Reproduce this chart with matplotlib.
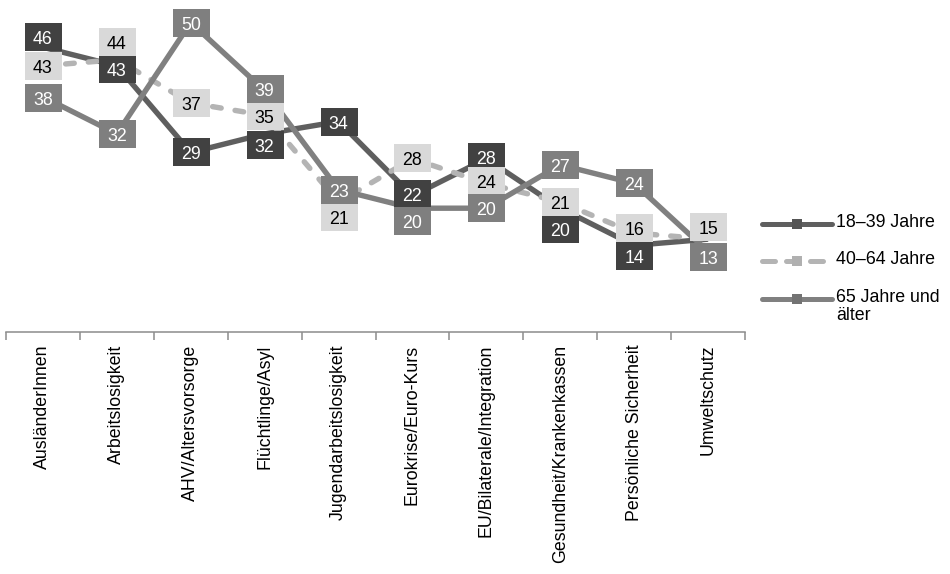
import matplotlib
matplotlib.use('Agg')
import matplotlib.pyplot as plt
from matplotlib.path import Path
from matplotlib.transforms import offset_copy

# Themen und Werte (Prozent) je Altersgruppe
categories = ['AusländerInnen', 'Arbeitslosigkeit', 'AHV/Altersvorsorge', 'Flüchtlinge/Asyl',
              'Jugendarbeitslosigkeit', 'Eurokrise/Euro-Kurs', 'EU/Bilaterale/Integration',
              'Gesundheit/Krankenkassen', 'Persönliche Sicherheit', 'Umweltschutz']
jung = [46, 43, 29, 32, 34, 22, 28, 20, 14, 15]
mittel = [43, 44, 37, 35, 21, 28, 24, 21, 16, 15]
alt = [38, 32, 50, 39, 23, 20, 20, 27, 24, 13]
series_names = ['18–39 Jahre', '40–64 Jahre', '65 Jahre und\nälter']

# label box shifts in pixels (positive = down), None = label hidden
jung_off = [-10, 3, 0, 11, 0, -2, -2, 21, 11, None]
mittel_off = [0, -18, 0, 1, 15, -1, -2, 0, -5, -12]
alt_off = [1, 0, 0, -2, 0, 13, 0, 0, 0, 5]

plt.rcParams.update({'font.family': ['Liberation Sans', 'DejaVu Sans']})

W, H = 950, 574
fig = plt.figure(figsize=(W / 100, H / 100), dpi=100, facecolor='white')

px_per_unit = 6.19
axis_y = 332
ax = fig.add_axes([6 / W, (H - axis_y) / H, 739 / W, axis_y / H])
ax.set_xlim(-0.5, len(categories) - 0.5)
ax.set_ylim(0, axis_y / px_per_unit)
ax.patch.set_visible(False)

styles = [
    dict(line='#5f5f5f', box='#414141', txt='white', ls='-', mk='#555555'),
    dict(line='#b4b4b4', box='#d9d9d9', txt='black', ls=(0, (1.6, 2.6)), mk='#b0b0b0'),
    dict(line='#808080', box='#7f7f7f', txt='white', ls='-', mk='#737373'),
]

x = list(range(len(categories)))
for vals, st in zip([jung, mittel, alt], styles):
    ax.plot(x, vals, color=st['line'], lw=3.9, linestyle=st['ls'],
            solid_capstyle='butt', dash_capstyle='round', zorder=2)

# rectangular label boxes
bw, bh = 37, 28
rect = Path([(-0.5, -0.5 * bh / bw), (0.5, -0.5 * bh / bw), (0.5, 0.5 * bh / bw),
             (-0.5, 0.5 * bh / bw), (-0.5, -0.5 * bh / bw)], closed=True)

for vals, offs, st in zip([jung, mittel, alt], [jung_off, mittel_off, alt_off], styles):
    for i, (v, off) in enumerate(zip(vals, offs)):
        if off is None:
            continue
        tb = offset_copy(ax.transData, fig=fig, x=0, y=-off, units='dots')
        ax.plot([i], [v], marker=rect, ms=bw * 0.72, mfc=st['box'], mew=0,
                linestyle='none', transform=tb, zorder=5, clip_on=False)
        tt = offset_copy(ax.transData, fig=fig, x=0, y=-off - 2.5, units='dots')
        ax.text(i, v, str(v), transform=tt, ha='center', va='center', fontsize=12.8,
                color=st['txt'], zorder=6, clip_on=False)

# axis
for s in ['top', 'right', 'left']:
    ax.spines[s].set_visible(False)
ax.spines['bottom'].set_color('#8c8c8c')
ax.spines['bottom'].set_linewidth(1.1)
ax.set_yticks([])
ax.set_xticks(x)
ax.set_xticklabels(categories, rotation=90, fontsize=12.8, color='black')
ax.set_xticks([i - 0.5 for i in range(len(categories) + 1)], minor=True)
ax.tick_params(axis='x', which='major', length=0, pad=9)
ax.tick_params(axis='x', which='minor', length=6, width=1.1, color='#8c8c8c', direction='out')

# legend drawn in pixel coordinates
lg = fig.add_axes([0, 0, 1, 1])
lg.set_xlim(0, W)
lg.set_ylim(H, 0)
lg.axis('off')
legend_y = [224, 261, 299]
legend_ls = ['-', (0, (2.6, 2.2)), '-']
for name, ly, st, ls in zip(series_names, legend_y, styles, legend_ls):
    lg.plot([762, 832], [ly, ly], color=st['line'], lw=3.6, linestyle=ls,
            dash_capstyle='round', solid_capstyle='round')
    lg.plot([797], [ly], marker='s', ms=7.5, mfc=st['mk'], mew=0, linestyle='none')
    lg.text(836, ly - 10, name, ha='left', va='top', fontsize=12.8, linespacing=1.05)

fig.savefig('out.png', dpi=100, facecolor='white')
